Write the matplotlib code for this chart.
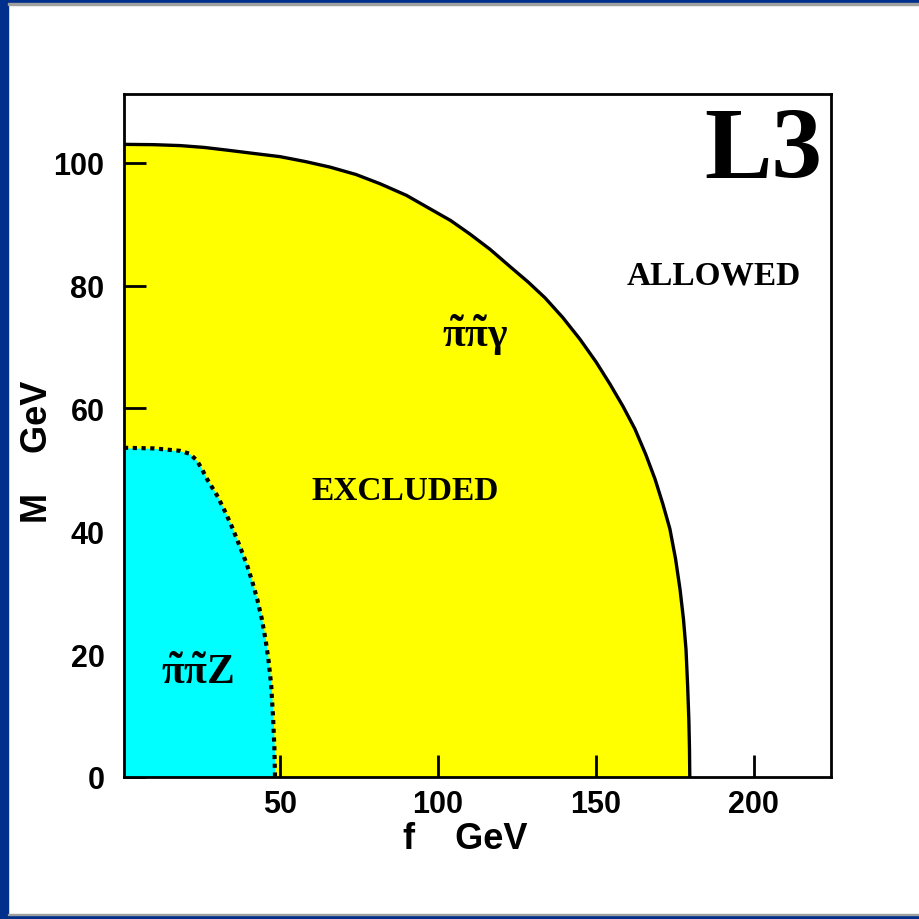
import matplotlib
matplotlib.use("Agg")
import matplotlib.pyplot as plt
from matplotlib.patches import Rectangle
import numpy as np

# Data: boundaries of excluded regions (f in GeV, M in GeV)
gamma_f = [0.6, 10.0, 18.4, 26.0, 34.2, 42.0, 50.0, 58.0, 65.8, 74.0, 81.6, 90.0,
           97.5, 104.0, 110.1, 116.5, 122.8, 128.5, 133.9, 139.5, 144.9, 150.0,
           154.4, 158.5, 162.3, 165.7, 168.7, 171.2, 173.4, 175.2, 176.6, 177.7,
           178.5, 179.0, 179.4, 179.6, 179.7]
gamma_M = [103.0, 102.95, 102.8, 102.5, 102.0, 101.5, 101.0, 100.2, 99.3, 98.1,
           96.6, 94.7, 92.5, 90.6, 88.4, 85.9, 83.1, 80.6, 78.0, 74.8, 71.3, 67.6,
           64.0, 60.4, 56.7, 52.6, 48.5, 44.4, 40.4, 35.5, 30.6, 25.7, 20.8, 15.1,
           9.4, 4.7, 0.0]

z_f = [0.6, 10.0, 18.4, 21.5, 23.7, 25.3, 26.9, 30.1, 32.6, 34.8, 37.3, 39.5,
       41.2, 42.8, 44.2, 45.4, 46.4, 47.2, 47.8, 48.2, 48.4]
z_M = [53.6, 53.5, 53.1, 52.6, 51.5, 50.1, 48.5, 45.8, 43.2, 40.7, 37.5, 34.6,
       31.8, 28.9, 25.8, 22.4, 18.8, 14.9, 9.6, 4.8, 0.0]

xticks = [50, 100, 150, 200]
yticks = [0, 20, 40, 60, 80, 100]

plt.rcParams['mathtext.fontset'] = 'custom'
plt.rcParams['mathtext.rm'] = 'Liberation Serif:bold'
plt.rcParams['mathtext.it'] = 'Liberation Serif:bold'
plt.rcParams['mathtext.bf'] = 'Liberation Serif:bold'

fig = plt.figure(figsize=(9.2, 9.2), dpi=100)
fig.patch.set_facecolor('white')

# blue frame
blue = '#00308c'
fig.add_artist(Rectangle((0, 0), 1, 4/920, transform=fig.transFigure, color=blue, zorder=-5))
fig.add_artist(Rectangle((0, 1-4/920), 1, 4/920, transform=fig.transFigure, color=blue, zorder=-5))
fig.add_artist(Rectangle((0, 0), 8/920, 1, transform=fig.transFigure, color=blue, zorder=-5))
fig.add_artist(Rectangle((8/920, 4/920), 1, 1.5/920, transform=fig.transFigure, color='#a0a0a0', zorder=-4))
fig.add_artist(Rectangle((8/920, 1-5.5/920), 1, 1.5/920, transform=fig.transFigure, color='#a0a0a0', zorder=-4))

ax = fig.add_axes([124/920, 142/920, (831-124)/920, (778-95)/920])
ax.set_xlim(0.6, 224.4)
ax.set_ylim(0, 111.2)

ax.fill_betweenx(gamma_M, 0, gamma_f, color='#ffff00', lw=0, zorder=1)
ax.plot(gamma_f, gamma_M, color='black', lw=2.4, zorder=3, solid_joinstyle='round')
ax.fill_betweenx(z_M, 0, z_f, color='#00ffff', lw=0, zorder=2)
ax.plot(z_f, z_M, color='black', lw=3.0, linestyle=(0, (1.0, 1.1)), zorder=3)

ax.set_xticks(xticks)
ax.set_yticks(yticks)
ax.tick_params(direction='in', length=16, width=2, top=False, right=False)
ax.tick_params(axis='x', pad=9)
ax.tick_params(axis='y', pad=14)
for lab in ax.get_xticklabels() + ax.get_yticklabels():
    lab.set_fontfamily('Liberation Sans')
    lab.set_fontweight('bold')
    lab.set_fontsize(22)
for s in ax.spines.values():
    s.set_linewidth(2)
    s.set_zorder(5)

serif = 'Liberation Serif'
ax.text(221.8, 101.6, 'L3', fontsize=73, fontweight='bold', family=serif,
        ha='right', va='center', zorder=6)
ax.text(187.3, 81.8, 'ALLOWED', fontsize=24, fontweight='bold', family=serif,
        ha='center', va='center', zorder=6)
ax.text(89.6, 46.6, 'EXCLUDED', fontsize=24, fontweight='bold', family=serif,
        ha='center', va='center', zorder=6)
ax.text(111.7, 72.0, r'$\tilde{\pi}\tilde{\pi}\gamma$', fontsize=30,
        ha='center', va='center', zorder=6)
ax.text(23.8, 17.2, r'$\tilde{\pi}\tilde{\pi}\mathrm{Z}$', fontsize=30,
        ha='center', va='center', zorder=6)

fig.text(465/920, 1-840/920, 'f    GeV', fontsize=26, fontweight='bold',
         family='Liberation Sans', ha='center', va='center')
fig.text(38/920, 1-452/920, 'M    GeV', fontsize=26, fontweight='bold',
         family='Liberation Sans', ha='center', va='center', rotation=90)

fig.savefig('out.png', dpi=100)
